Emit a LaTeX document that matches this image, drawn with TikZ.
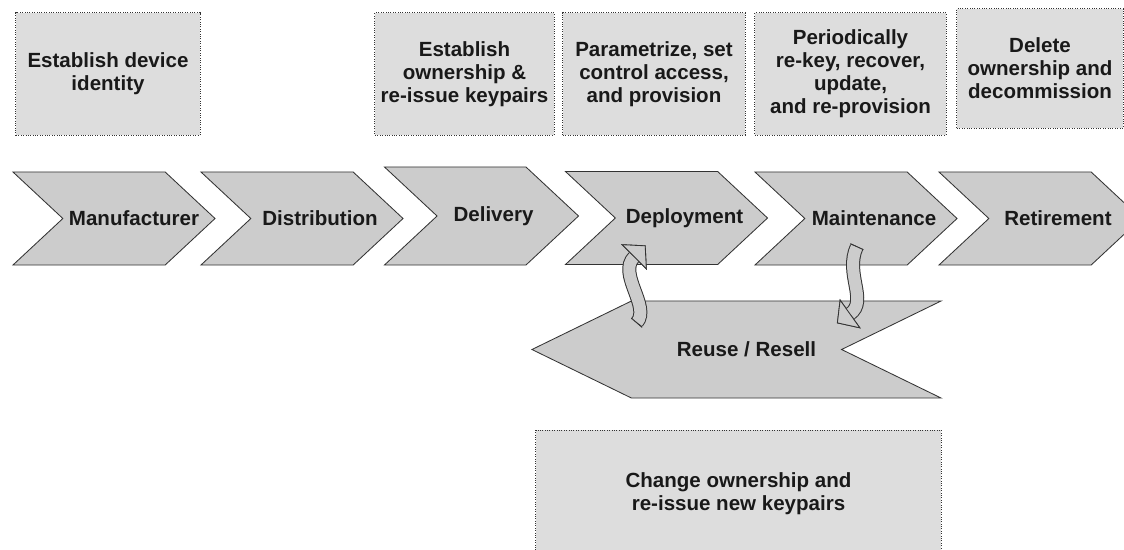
\documentclass[tikz,border=0pt]{standalone}
\usepackage{fontspec}
\setmainfont{Liberation Sans}
\usetikzlibrary{shapes.symbols,arrows.meta}
\definecolor{boxgray}{HTML}{DDDDDD}
\definecolor{stepgray}{HTML}{CCCCCC}
\definecolor{edgegray}{HTML}{333333}

\begin{document}
\begin{tikzpicture}
    [
      x=0.025cm, y=-0.025cm,
      every node/.style={font=\bfseries\fontsize{14.6}{16.4}\selectfont, text=black!90},
      task/.style={rectangle, draw=edgegray, densely dotted, line width=0.7pt, fill=boxgray, align=center, minimum height=3.05cm, inner sep=0pt},
      phase/.style={signal, signal from=west, signal to=east, signal pointer angle=86, draw=edgegray, line width=0.6pt, fill=stepgray, minimum width=5.05cm, minimum height=2.325cm, inner sep=0pt},
      back/.style={signal, signal from=east, signal to=west, signal pointer angle=52, draw=edgegray, line width=0.6pt, fill=stepgray, minimum width=10.225cm, minimum height=2.425cm, inner sep=0pt},
      recycle/.style={draw=stepgray, line width=0.3cm, shorten >=-0.41cm,
        preaction={draw=edgegray, line width=0.35cm},
        {Bar[width=0.35cm 0 0, line width=0.6pt, color=edgegray]}-{Triangle[width=0.9cm 0 0, length=0.41cm 0 0, line width=0.6pt, color=edgegray, fill=stepgray]}}
    ]
    \useasboundingbox (0,0) rectangle (1124,549);

    \node (ident) [task, minimum width=4.6cm] at (108, 74) {Establish device\\identity};
    \node (owner) [task, minimum width=4.475cm] at (464.5, 74) {Establish\\ownership \&\\re-issue keypairs};
    \node (param) [task, minimum width=4.55cm] at (654, 74) {Parametrize, set\\control access,\\and provision};
    \node (rekey) [task, minimum width=4.775cm] at (850.5, 74) {Periodically\\re-key, recover,\\update,\\and re-provision};
    \node (delete) [task, minimum width=4.15cm, minimum height=2.975cm] at (1040, 68.5) {Delete\\ownership and\\decommission};
    \node (change) [task, minimum width=10.125cm, minimum height=3.175cm] at (738.5, 493.5) {Change ownership and\\re-issue new keypairs};

    \node (manuf) [phase, label={[xshift=0.5cm]center:Manufacturer}] at (114, 218.5) {};
    \node (distr) [phase, label={[xshift=0.45cm]center:Distribution}] at (302, 218.5) {};
    \node (deliv) [phase, minimum width=4.85cm, minimum height=2.45cm, label={[xshift=0.3cm]center:Delivery}] at (481.5, 216) {};
    \node (deploy) [phase, label={[xshift=0.45cm]center:Deployment}] at (666.5, 218) {};
    \node (maint) [phase, label={[xshift=0.45cm]center:Maintenance}] at (856, 218.5) {};
    \node (retire) [phase, label={[xshift=0.45cm]center:Retirement}] at (1040, 218.5) {};
    \node (reuse) [back, label={[xshift=0.25cm]center:Reuse / Resell}] at (736.5, 349.5) {};

    \coordinate (upfoot) at (636.5, 323);
    \coordinate (uphead) at (634, 257);
    \coordinate (downfoot) at (857, 246.3);
    \coordinate (downhead) at (850.3, 313.7);

    \draw [recycle] (upfoot) .. controls +(14.3,-16.7) and +(-16.8,16.8) .. (uphead);
    \draw [recycle] (downfoot) .. controls +(-12.6,27.3) and +(18,-12.8) .. (downhead);
\end{tikzpicture}
\end{document}
